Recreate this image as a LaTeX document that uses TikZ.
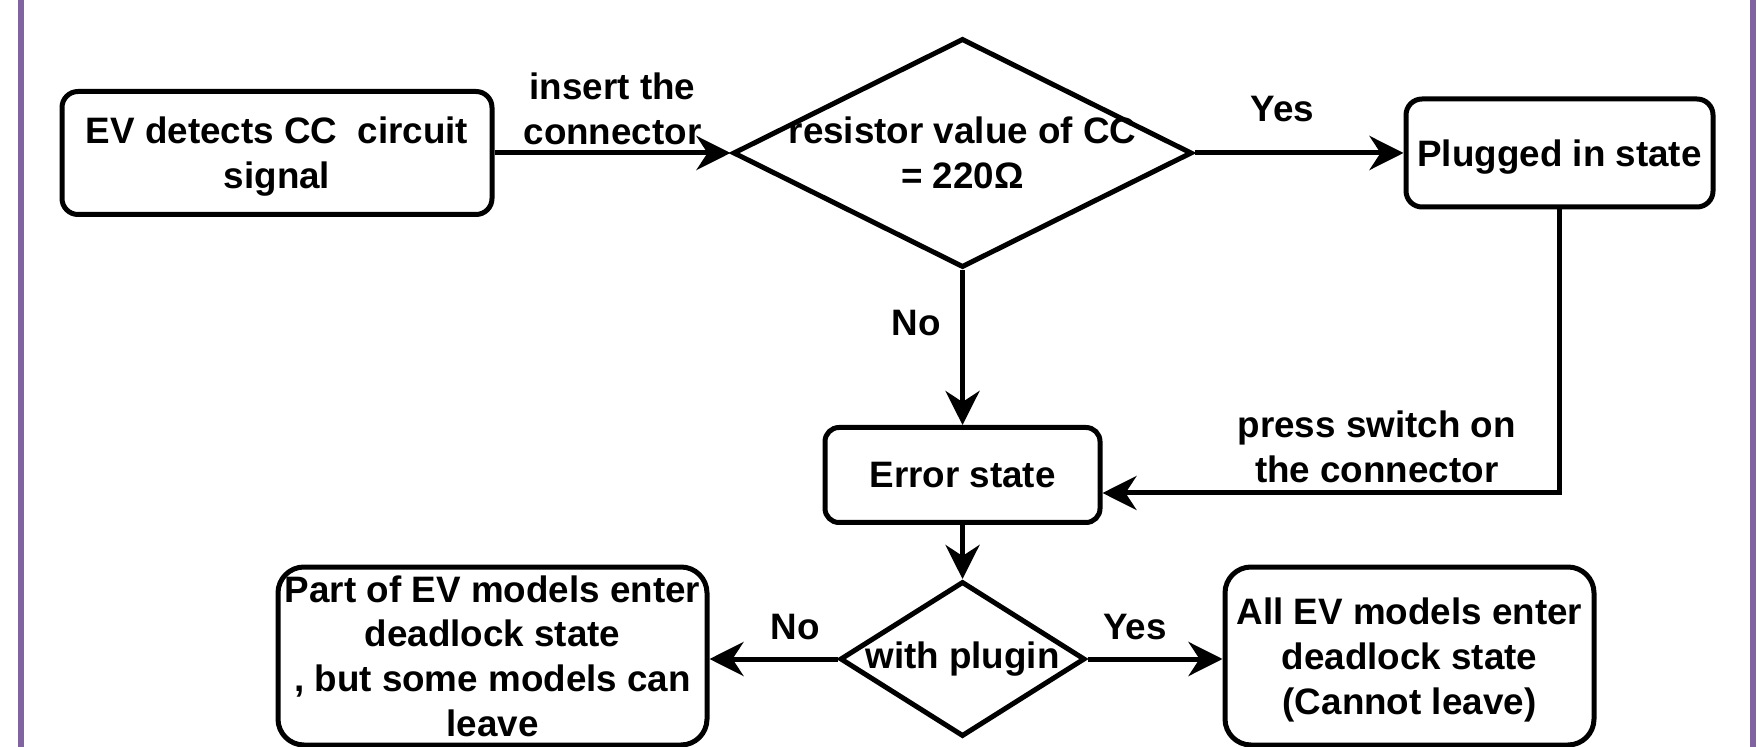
\documentclass[tikz,border=0pt]{standalone}
\usepackage{fontspec}
\setmainfont{Liberation Sans}
\usepackage{xcolor}
\usepackage{tikz}
\usetikzlibrary{shapes,arrows.meta,positioning,calc}

\definecolor{framepurple}{RGB}{128,100,162}

\begin{document}
\begin{tikzpicture}[
    x=0.5pt, y=-0.5pt,
    font=\fontsize{18.4pt}{22.4pt}\selectfont\bfseries,
    box/.style={rectangle, draw, line width=2.5pt, rounded corners=8pt, inner sep=2pt, text depth=0pt, align=center},
    decision/.style={diamond, draw, line width=2.5pt, inner sep=0pt},
    arrow/.style={-{Stealth[length=17pt, width=17pt, inset=5.5pt]}, line width=2.5pt},
    lbl/.style={inner sep=3pt, align=center},
    frame/.style={draw=framepurple, line width=3pt}
]
    \clip (0,0) rectangle (1764,747);

    \node[box, minimum width=215pt, minimum height=61.5pt] (detect) at (277,153) {EV detects CC~ circuit\\signal};
    \node[decision, minimum width=229.5pt, minimum height=114.5pt, right=118pt of detect,
          label={[align=center]center:resistor value of CC\\= 220Ω}] (check) {};
    \node[box, minimum width=153.5pt, minimum height=54pt, right=104.5pt of check] (plugged) {Plugged in state};
    \node[box, minimum width=137.5pt, minimum height=47.5pt, rounded corners=7pt, below=77.5pt of check] (error) {Error state};
    \node[decision, minimum width=122.5pt, minimum height=77.5pt, below=27pt of error,
          label={center:with plugin}] (plugin) {};
    \node[box, minimum width=214.5pt, minimum height=89pt, rounded corners=13pt, left=64pt of plugin, yshift=1.5pt] (partial)
        {Part of EV models enter\\deadlock state\\, but some models can\\leave};
    \node[box, minimum width=184.5pt, minimum height=89pt, rounded corners=13pt, right=67.5pt of plugin, yshift=1.5pt] (allmodels)
        {All EV models enter\\deadlock state\\(Cannot leave)};

    \draw[arrow] (detect) -- node[lbl, above=0pt] {insert the\\connector} (check);
    \draw[arrow] (check) -- node[lbl, above=11.5pt, pos=0.42] {Yes} (plugged);
    \draw[arrow] (check) -- node[lbl, left=6.5pt, pos=0.34] {No} (error);
    \draw[arrow] (plugged.south) |- node[lbl, above=1pt, pos=0.7] {press switch on\\the connector} ([yshift=-9pt]error.east);
    \draw[arrow] (error) -- (plugin);
    \draw[arrow] (plugin.west) -- node[lbl, above=5.5pt, pos=0.33] {No} (partial.east |- plugin.west);
    \draw[arrow] (plugin.east) -- node[lbl, above=5.5pt, pos=0.35] {Yes} (allmodels.west |- plugin.east);

    % side rules
    \draw[frame] (20.5,0) -- (20.5,747);
    \draw[frame] (1752.5,0) -- (1752.5,747);
\end{tikzpicture}
\end{document}
